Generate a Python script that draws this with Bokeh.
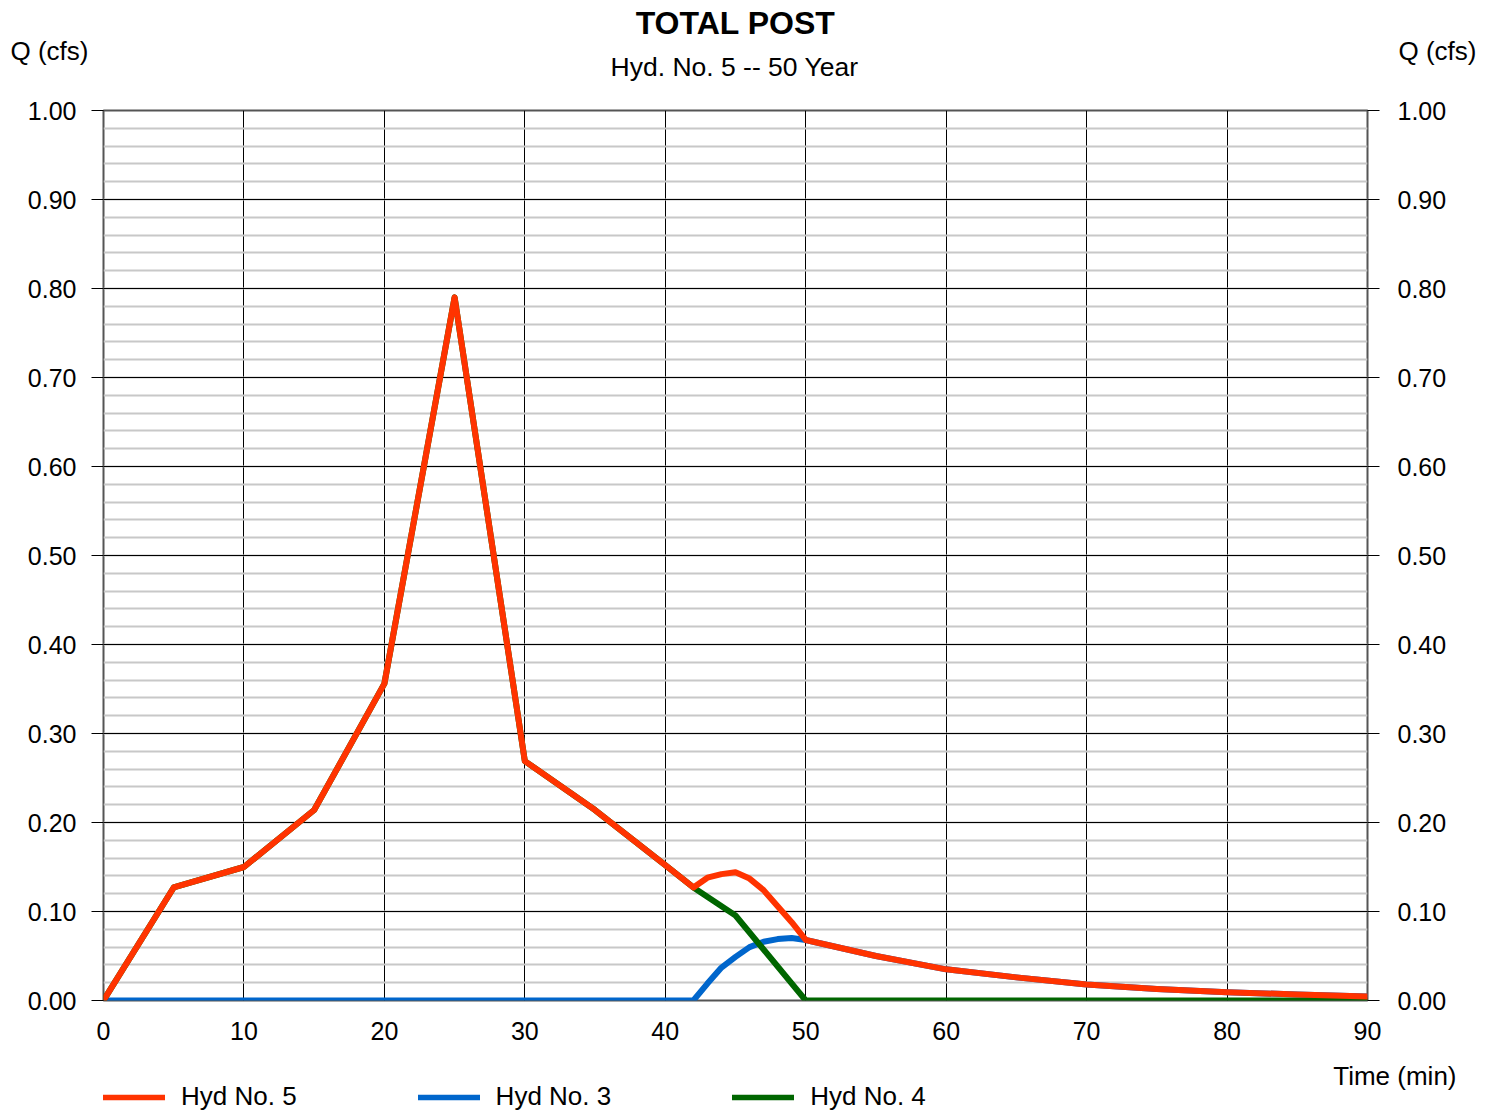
from bokeh.plotting import figure
from bokeh.models import (Range1d, LinearAxis, FixedTicker, PrintfTickFormatter,
                          Label, Legend, LegendItem, Plot, ColumnDataSource, Line)
from bokeh.layouts import column
from bokeh.embed import file_html
from bokeh.resources import INLINE

# ---- data ----
time5 = [0, 5, 10, 15, 20, 25, 30, 35, 40, 42, 43, 44, 45, 46, 47, 48, 49, 50,
         55, 60, 65, 70, 75, 80, 85, 90]
q5 = [0.0, 0.127, 0.150, 0.214, 0.356, 0.790, 0.269, 0.214, 0.152, 0.127, 0.138,
      0.142, 0.144, 0.137, 0.124, 0.106, 0.088, 0.068,
      0.050, 0.035, 0.026, 0.018, 0.013, 0.0094, 0.0067, 0.0045]

time3 = [0, 42, 43, 44, 45, 46, 47, 48, 49, 50, 55, 60, 65, 70, 75, 80, 85, 90]
q3 = [0.0, 0.0, 0.019, 0.037, 0.049, 0.060, 0.066, 0.069, 0.0703, 0.068,
      0.050, 0.035, 0.026, 0.018, 0.013, 0.0094, 0.0067, 0.0045]

time4 = [0, 5, 10, 15, 20, 25, 30, 35, 40, 42, 45, 50, 55, 60, 70, 80, 90]
q4 = [0.0, 0.127, 0.150, 0.214, 0.356, 0.790, 0.269, 0.214, 0.152, 0.127, 0.0955,
      0.0, 0.0, 0.0, 0.0, 0.0, 0.0]

x_ticks = [0, 10, 20, 30, 40, 50, 60, 70, 80, 90]
y_ticks = [0.0, 0.1, 0.2, 0.3, 0.4, 0.5, 0.6, 0.7, 0.8, 0.9, 1.0]
y_minor = [round(i * 0.02, 2) for i in range(51)]

title_text = "TOTAL POST"
subtitle_text = "Hyd. No. 5 -- 50 Year"
y_label = "Q (cfs)"
x_label = "Time (min)"
names = ["Hyd No. 5", "Hyd No. 3", "Hyd No. 4"]
colors = ["#ff3300", "#0066cc", "#006600"]

FONT = "Liberation Sans"
W = 1497
FL, FR = 103, 1367   # frame left / right (page px)
HEAD_H = 95          # header strip (titles)
TOP_B, BOT_B = 15, 50
FRAME_H = 890
FOOT_H = 1112 - HEAD_H - TOP_B - FRAME_H - BOT_B   # footer strip (x label, legend)
LW = 6
TICK_FS = "25px"

# ---------------- main chart ----------------
p = figure(width=W, height=TOP_B + FRAME_H + BOT_B, output_backend="svg",
           toolbar_location=None, x_range=Range1d(0, 90), y_range=Range1d(0, 1))
p.min_border_left = FL
p.min_border_right = W - FR
p.min_border_top = TOP_B
p.min_border_bottom = BOT_B
p.outline_line_color = "#555555"
p.outline_line_width = 2
p.background_fill_color = "white"
p.border_fill_color = "white"

xa = p.xaxis[0]
xa.ticker = FixedTicker(ticks=x_ticks)
xa.axis_line_color = None
xa.major_tick_line_color = None
xa.minor_tick_line_color = None
xa.major_label_text_font = FONT
xa.major_label_text_font_size = TICK_FS
xa.major_label_text_color = "black"
xa.major_label_standoff = 15

ya = p.yaxis[0]
ya.ticker = FixedTicker(ticks=y_ticks)
ya.formatter = PrintfTickFormatter(format="%.2f")
ya.axis_line_color = None
ya.major_tick_line_color = "black"
ya.major_tick_out = 12
ya.major_tick_in = 0
ya.minor_tick_line_color = None
ya.major_label_text_font = FONT
ya.major_label_text_font_size = TICK_FS
ya.major_label_text_color = "black"
ya.major_label_standoff = 15

p.extra_y_ranges = {"r": Range1d(0, 1)}
ra = LinearAxis(y_range_name="r", ticker=FixedTicker(ticks=y_ticks),
                formatter=PrintfTickFormatter(format="%.2f"))
ra.axis_line_color = None
ra.major_tick_line_color = "black"
ra.major_tick_out = 12
ra.major_tick_in = 0
ra.minor_tick_line_color = None
ra.major_label_text_font = FONT
ra.major_label_text_font_size = TICK_FS
ra.major_label_text_color = "black"
ra.major_label_standoff = 18
p.add_layout(ra, "right")

p.xgrid.ticker = FixedTicker(ticks=x_ticks)
p.xgrid.grid_line_color = "black"
p.xgrid.grid_line_width = 1
p.ygrid.ticker = FixedTicker(ticks=y_ticks, minor_ticks=y_minor)
p.ygrid.grid_line_color = "black"
p.ygrid.grid_line_width = 1
p.ygrid.minor_grid_line_color = "#c8c8c8"
p.ygrid.minor_grid_line_width = 2

# blue under green under red
p.line(time3, q3, line_color=colors[1], line_width=LW, line_cap="round", line_join="round")
p.line(time4, q4, line_color=colors[2], line_width=LW, line_cap="round", line_join="round")
p.line(time5, q5, line_color=colors[0], line_width=LW, line_cap="round", line_join="round")


def mk_label(x, y, t, size, align, units="data", bold=False):
    return Label(x=x, y=y, x_units=units, y_units=units, text=t,
                 text_font=FONT, text_font_size=size,
                 text_align=align, text_baseline="middle",
                 text_font_style="bold" if bold else "normal",
                 text_color="black")


# ---------------- header strip (titles, axis unit labels) ----------------
# frame is aligned with the main frame; data coords == page pixels
head = Plot(width=W, height=HEAD_H, output_backend="svg", toolbar_location=None,
            x_range=Range1d(FL, FR), y_range=Range1d(HEAD_H, 0),
            min_border_left=FL, min_border_right=W - FR,
            min_border_top=0, min_border_bottom=0, outline_line_color=None)
head.add_layout(mk_label(735, 22, title_text, "32px", "center", bold=True))
head.add_layout(mk_label(734, 66, subtitle_text, "26.5px", "center"))
head.add_layout(mk_label(10, 50, y_label, "26px", "left", units="canvas"), "left")
head.add_layout(mk_label(1398, 50, y_label, "26px", "left", units="canvas"), "right")

# ---------------- footer strip (x label, legend) ----------------
y0 = 1112 - FOOT_H
foot = Plot(width=W, height=FOOT_H, output_backend="svg", toolbar_location=None,
            x_range=Range1d(FL, FR), y_range=Range1d(1112, y0),
            min_border_left=FL, min_border_right=W - FR,
            min_border_top=0, min_border_bottom=0, outline_line_color=None)
foot.add_layout(mk_label(1456, 1075 - y0, x_label, "26px", "right", units="canvas"), "right")

items = []
for nm, c in zip(names, colors):
    src = ColumnDataSource(dict(x=[float("nan")], y=[float("nan")]))
    rr = foot.add_glyph(src, Line(x="x", y="y", line_color=c, line_width=5.5,
                                  line_cap="round"))
    items.append(LegendItem(label=nm, renderers=[rr]))

legend = Legend(items=items, orientation="horizontal", location=(0, 0),
                spacing=121, glyph_width=62, glyph_height=20, label_standoff=16,
                label_text_font=FONT, label_text_font_size="26px",
                label_text_color="black",
                padding=0, margin=0, border_line_color=None,
                background_fill_alpha=0)
foot.add_layout(legend)

layout = column(head, p, foot, spacing=0)
open("out.html", "w").write(file_html(layout, INLINE))
